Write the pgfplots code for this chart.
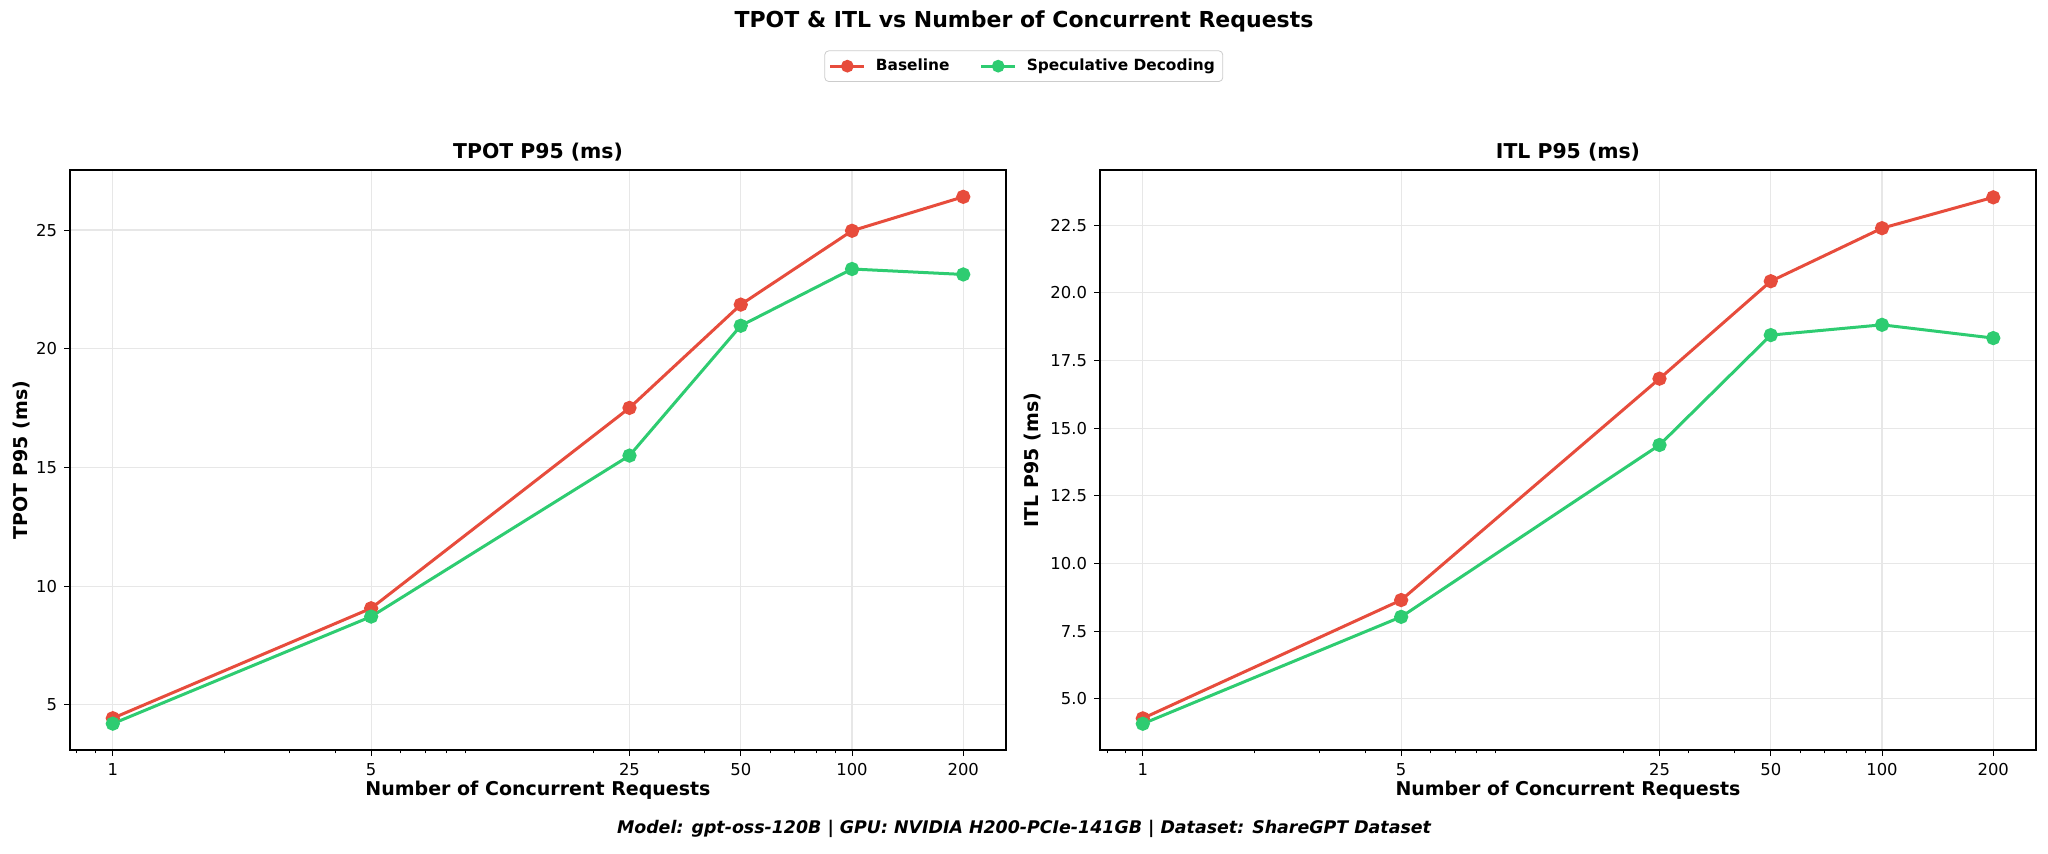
\documentclass[border=0pt]{standalone}
\usepackage{fontspec}
\setmainfont{DejaVu Sans}
\usepackage{pgfplots}
\pgfplotsset{compat=1.18}
\definecolor{base}{HTML}{E74C3C}
\definecolor{spec}{HTML}{2ECC71}
\definecolor{gridc}{RGB}{231,231,231}
\begin{document}
\begin{tikzpicture}
\path[use as bounding box] (0pt,0pt) rectangle (1024pt,426.5pt);
\node[font=\fontsize{11}{13}\selectfont\bfseries] at (512pt,416pt) {TPOT \& ITL vs Number of Concurrent Requests};
\begin{axis}[scale only axis, width=468pt, height=290pt, anchor=south west, at={(35pt,51.5pt)},
  xmode=log, xmin=0.766, xmax=261,
  xtick={1,5,25,50,100,200}, xticklabels={1,5,25,50,100,200},
  minor xtick={0.8,0.9,2,3,4,6,7,8,9,20,30,40,60,70,80,90},
  xtick pos=bottom, ytick pos=left, tick align=outside,
  major tick length=3pt, minor tick length=1.7pt,
  tick style={black, line width=0.5pt},
  xmajorgrids, ymajorgrids, major grid style={gridc, line width=0.6pt},
  axis line style={line width=0.7pt},
  tick label style={font=\fontsize{8.2}{10}\selectfont},
  xlabel={Number of Concurrent Requests},
  xlabel style={font=\fontsize{9.5}{11}\selectfont\bfseries, at={(axis description cs:0.5,-0.069)}, anchor=center},
  title style={font=\fontsize{10.2}{12}\selectfont\bfseries, at={(axis description cs:0.5,1)}, anchor=center, yshift=3pt},
  ymin=3.10, ymax=27.53, ytick={5,10,15,20,25}, yticklabels={5,10,15,20,25},
  title={TPOT P95 (ms)}, ylabel={TPOT P95 (ms)},
  ylabel style={font=\fontsize{9.5}{11}\selectfont\bfseries, at={(axis description cs:-0.052,0.5)}, anchor=center},
  legend columns=2,
  legend image post style={mark size=2.4pt},
  legend style={at={(1.019,1.179)}, anchor=center, draw=black!20, rounded corners=2pt,
    font=\fontsize{7.7}{9}\selectfont\bfseries, inner xsep=2pt, inner ysep=2pt,
    /tikz/every odd column/.append style={column sep=3pt},
    /tikz/every even column/.append style={column sep=13pt}},
]
\addplot[color=base, line width=1.5pt, mark=*, mark size=2.8pt] coordinates {(1,4.44) (5,9.07) (25,17.51) (50,21.86) (100,24.97) (200,26.40)};
\addlegendentry{Baseline}
\addplot[color=spec, line width=1.5pt, mark=*, mark size=2.8pt] coordinates {(1,4.21) (5,8.72) (25,15.50) (50,20.97) (100,23.36) (200,23.13)};
\addlegendentry{Speculative Decoding}
\end{axis}
\begin{axis}[scale only axis, width=468pt, height=290pt, anchor=south west, at={(550pt,51.5pt)},
  xmode=log, xmin=0.766, xmax=261,
  xtick={1,5,25,50,100,200}, xticklabels={1,5,25,50,100,200},
  minor xtick={0.8,0.9,2,3,4,6,7,8,9,20,30,40,60,70,80,90},
  xtick pos=bottom, ytick pos=left, tick align=outside,
  major tick length=3pt, minor tick length=1.7pt,
  tick style={black, line width=0.5pt},
  xmajorgrids, ymajorgrids, major grid style={gridc, line width=0.6pt},
  axis line style={line width=0.7pt},
  tick label style={font=\fontsize{8.2}{10}\selectfont},
  xlabel={Number of Concurrent Requests},
  xlabel style={font=\fontsize{9.5}{11}\selectfont\bfseries, at={(axis description cs:0.5,-0.069)}, anchor=center},
  title style={font=\fontsize{10.2}{12}\selectfont\bfseries, at={(axis description cs:0.5,1)}, anchor=center, yshift=3pt},
  ymin=3.11, ymax=24.54, ytick={5,7.5,10,12.5,15,17.5,20,22.5},
  yticklabels={5.0,7.5,10.0,12.5,15.0,17.5,20.0,22.5},
  title={ITL P95 (ms)}, ylabel={ITL P95 (ms)},
  ylabel style={font=\fontsize{9.5}{11}\selectfont\bfseries, at={(axis description cs:-0.0716,0.5)}, anchor=center},
]
\addplot[color=base, line width=1.5pt, mark=*, mark size=2.8pt] coordinates {(1,4.28) (5,8.65) (25,16.83) (50,20.43) (100,22.39) (200,23.53)};
\addplot[color=spec, line width=1.5pt, mark=*, mark size=2.8pt] coordinates {(1,4.08) (5,8.03) (25,14.38) (50,18.44) (100,18.82) (200,18.33)};
\end{axis}
\node[font=\fontsize{8.7}{10}\selectfont\bfseries\itshape] at (512pt,12pt) {Model: gpt-oss-120B | GPU: NVIDIA H200-PCIe-141GB | Dataset: ShareGPT Dataset};
\end{tikzpicture}
\end{document}
